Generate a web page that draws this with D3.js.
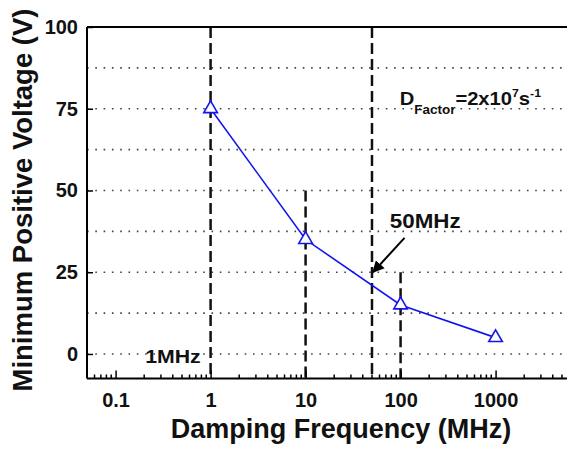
<!DOCTYPE html>
<html>
<head>
<meta charset="utf-8">
<script src="https://cdn.jsdelivr.net/npm/d3@7"></script>
<style>
  body { margin: 0; background: #fff; }
  text { font-family: "Liberation Sans", Arial, sans-serif; font-weight: bold; }
</style>
</head>
<body>
<div id="my_dataviz"></div>
<script>
// data
var freqs = [1, 10, 100, 1000];          // MHz
var volts = [75, 35, 15, 5];             // V
var xTicks = [0.1, 1, 10, 100, 1000];
var yTicks = [0, 25, 50, 75, 100];
var gridVals = [0, 12.5, 25, 37.5, 50, 62.5, 75, 87.5];
// dashed markers: frequency and the value where the dashed line starts
var markFreqs = [1, 10, 50, 100];
var markTops = [100, 50, 100, 25];

var width = 567, height = 455;
var svg = d3.select("#my_dataviz")
  .append("svg")
  .attr("width", width)
  .attr("height", height);

var x = d3.scaleLog().domain([0.05, 6000]).range([87, 569.5]);
var y = d3.scaleLinear().domain([-7.5, 100]).range([378.5, 27]);

// dotted grid
svg.append("g")
  .selectAll("line")
  .data(gridVals)
  .enter()
  .append("line")
  .attr("x1", x(0.05))
  .attr("x2", width)
  .attr("y1", d => y(d))
  .attr("y2", d => y(d))
  .style("stroke", "#444")
  .style("stroke-width", 1.6)
  .style("stroke-dasharray", "1.6,6.7");

// dashed vertical lines
svg.append("g")
  .selectAll("line")
  .data(markFreqs)
  .enter()
  .append("line")
  .attr("x1", d => x(d))
  .attr("x2", d => x(d))
  .attr("y1", (d, i) => y(markTops[i]))
  .attr("y2", y(-7.5))
  .style("stroke", "#111")
  .style("stroke-width", 2.5)
  .style("stroke-dasharray", "11,5");

// axes
var xAxis = svg.append("g")
  .attr("transform", "translate(0," + y(-7.5) + ")")
  .call(d3.axisBottom(x).tickValues(xTicks).tickFormat(d => d).tickSize(-8).tickPadding(14));
xAxis.selectAll(".tick line").style("stroke-width", 1.5);
xAxis.selectAll("text").style("font-size", "20px").attr("fill", "#111");
xAxis.select(".domain").style("stroke-width", 2).attr("d", "M" + x(0.05) + ",0H" + x(6000));

// minor log ticks
var minors = [];
[0.01, 0.1, 1, 10, 100, 1000].forEach(function(dec) {
  for (var k = 2; k <= 9; k++) {
    var v = dec * k;
    if (v > 0.05 && v < 6000) minors.push(v);
  }
});
svg.append("g")
  .selectAll("line")
  .data(minors)
  .enter()
  .append("line")
  .attr("x1", d => x(d))
  .attr("x2", d => x(d))
  .attr("y1", y(-7.5))
  .attr("y2", y(-7.5) - 4)
  .style("stroke", "#000")
  .style("stroke-width", 1.5);

var yAxis = svg.append("g")
  .attr("transform", "translate(" + x(0.05) + ",0)")
  .call(d3.axisLeft(y).tickValues(yTicks).tickSize(-6).tickPadding(9));
yAxis.selectAll(".tick line").style("stroke-width", 1.5);
yAxis.selectAll("text").style("font-size", "20px").attr("fill", "#111");
yAxis.select(".domain").style("stroke-width", 2).attr("d", "M0," + y(-7.5) + "V" + y(100));

// top frame line
svg.append("line")
  .attr("x1", x(0.05)).attr("x2", width)
  .attr("y1", y(100)).attr("y2", y(100))
  .style("stroke", "#000").style("stroke-width", 2);

// data line
var pts = freqs.map((f, i) => [f, volts[i]]);
svg.append("path")
  .datum(pts)
  .attr("d", d3.line().x(d => x(d[0])).y(d => y(d[1])))
  .style("fill", "none")
  .style("stroke", "#1414ee")
  .style("stroke-width", 1.6);

svg.append("g")
  .selectAll("path")
  .data(pts)
  .enter()
  .append("path")
  .attr("transform", d => "translate(" + x(d[0]) + "," + y(d[1]) + ")")
  .attr("d", d3.symbol().type(d3.symbolTriangle).size(80))
  .style("fill", "#fff")
  .style("stroke", "#1414ee")
  .style("stroke-width", 1.6);

// arrow
svg.append("defs").append("marker")
  .attr("id", "arrow")
  .attr("viewBox", "0 0 10 10")
  .attr("refX", 9).attr("refY", 5)
  .attr("markerWidth", 6).attr("markerHeight", 6)
  .attr("orient", "auto")
  .append("path")
  .attr("d", "M0,0L10,5L0,10z")
  .style("fill", "#000");

svg.append("line")
  .attr("x1", x(110)).attr("y1", y(35.5))
  .attr("x2", x(50) + 1).attr("y2", y(25))
  .style("stroke", "#000")
  .style("stroke-width", 2)
  .attr("marker-end", "url(#arrow)");

// annotations
function label(xv, yv, size, txt) {
  return svg.append("text")
    .attr("transform", "translate(" + x(xv) + "," + y(yv) + ") scale(1.12,1)")
    .style("font-size", size + "px")
    .attr("fill", "#111")
    .text(txt);
}
label(77, 38.5, 20, "50MHz");
label(0.205, -2.8, 19, "1MHz");

var df = svg.append("text")
  .attr("transform", "translate(" + x(98) + "," + y(76.2) + ") scale(1.12,1)")
  .attr("fill", "#111")
  .style("font-size", "18px");
df.append("tspan").text("D");
df.append("tspan").attr("dy", 9).style("font-size", "12px").text("Factor");
df.append("tspan").attr("dy", -9).text("=2x10");
df.append("tspan").attr("dy", -8).style("font-size", "11px").text("7");
df.append("tspan").attr("dy", 8).text("s");
df.append("tspan").attr("dy", -8).style("font-size", "11px").text("-1");

// axis titles
svg.append("text")
  .attr("x", 341)
  .attr("y", 438)
  .style("text-anchor", "middle")
  .style("font-size", "27px")
  .attr("fill", "#111")
  .text("Damping Frequency (MHz)");

svg.append("text")
  .attr("x", -200)
  .attr("y", 32)
  .attr("transform", "rotate(-90)")
  .style("text-anchor", "middle")
  .style("font-size", "27.5px")
  .attr("fill", "#111")
  .text("Minimum Positive Voltage (V)");
</script>
</body>
</html>
